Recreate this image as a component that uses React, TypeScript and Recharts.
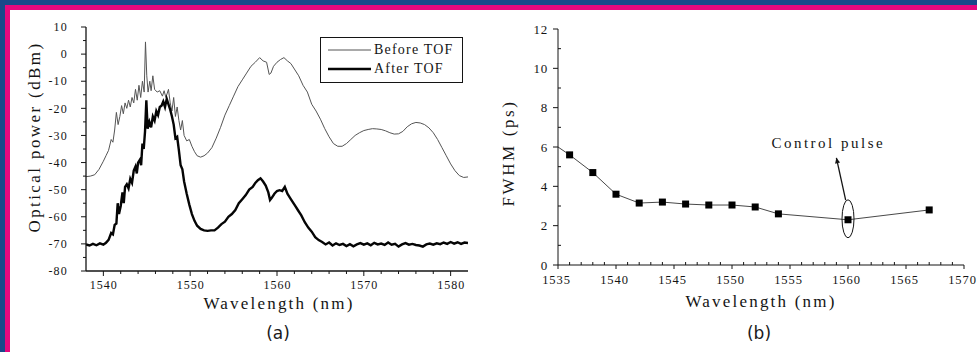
import React from "react";
import {
  LineChart,
  Line,
  XAxis,
  YAxis,
  Legend,
  Label,
  ReferenceDot,
  ReferenceLine,
} from "recharts";

// ---- (a) optical spectrum ----
const beforeWl = [
  1538.0, 1538.5, 1539.0, 1539.5, 1540.0, 1540.3, 1540.6, 1540.9, 1541.1, 1541.3,
  1541.5, 1541.7, 1541.9, 1542.1, 1542.3, 1542.5, 1542.7, 1542.9, 1543.1, 1543.3,
  1543.5, 1543.7, 1543.9, 1544.1, 1544.3, 1544.5, 1544.7, 1544.85, 1545.0, 1545.15,
  1545.35, 1545.5, 1545.7, 1545.9, 1546.2, 1546.5, 1546.8, 1547.0, 1547.2, 1547.5,
  1547.7, 1547.9, 1548.1, 1548.3, 1548.5, 1548.7, 1548.9, 1549.1, 1549.3, 1549.6,
  1549.9, 1550.2, 1550.5, 1550.8, 1551.2, 1551.6, 1552.0, 1552.5, 1553.0, 1553.5,
  1554.0, 1554.5, 1555.0, 1555.5, 1556.0, 1556.5, 1557.0, 1557.5, 1558.0, 1558.4,
  1558.8, 1559.1, 1559.3, 1559.6, 1560.0, 1560.4, 1560.8, 1561.2, 1561.6, 1562.0,
  1562.5, 1563.0, 1563.5, 1564.0, 1564.5, 1565.0, 1565.5, 1566.0, 1566.5, 1567.0,
  1567.5, 1568.0, 1568.5, 1569.0, 1569.5, 1570.0, 1570.5, 1571.0, 1571.5, 1572.0,
  1572.5, 1573.0, 1573.5, 1574.0, 1574.5, 1575.0, 1575.5, 1576.0, 1576.5, 1577.0,
  1577.5, 1578.0, 1578.5, 1579.0, 1579.5, 1580.0, 1580.5, 1581.0, 1581.5, 1582.0,
];
const beforeDbm = [
  -45.2, -45.0, -44.5, -42.5, -39.5, -37.5, -35.5, -31.5, -32.5, -28,
  -21.5, -26, -23, -19, -22, -18, -20, -17, -19.5, -16,
  -18, -13, -17, -11.5, -16, -10, -14, 4.5, -8, -14,
  -10, -13.5, -8, -13, -14, -13.5, -15.5, -13.5, -16, -13,
  -18, -21, -16, -23, -19.5, -24.5, -28, -24.5, -30, -32,
  -31.5, -34, -36, -37.5, -38, -37.5, -36.5, -34.5, -31, -27,
  -22.5, -19, -15.5, -12, -9.5, -7, -4.5, -3, -1.3, -2.5,
  -3, -7.5, -7, -4.5, -3, -2, -1.3, -2.5, -3.5, -5.5,
  -8, -11.5, -14, -18.5, -21, -24, -27.5, -30.5, -33, -34,
  -34, -33, -31.5, -30, -29, -28.2, -27.8, -27.5, -27.6, -27.8,
  -28.3, -29, -29.5, -29.4, -28.5, -26.8, -25.7, -25.2, -25.4, -26,
  -27.2, -29, -31.5, -34.5, -37.5, -40.5, -43, -44.8, -45.5, -45.3,
];

const afterWl = [
  1538.0, 1538.4, 1538.8, 1539.2, 1539.6, 1540.0, 1540.3, 1540.6, 1540.9, 1541.1,
  1541.3, 1541.5, 1541.65, 1541.8, 1542.0, 1542.2, 1542.35, 1542.5, 1542.7, 1542.9,
  1543.1, 1543.3, 1543.5, 1543.7, 1543.85, 1544.0, 1544.2, 1544.35, 1544.5, 1544.65,
  1544.8, 1544.95, 1545.1, 1545.3, 1545.5, 1545.7, 1545.9, 1546.1, 1546.3, 1546.5,
  1546.7, 1546.9, 1547.1, 1547.3, 1547.5, 1547.7, 1547.9, 1548.1, 1548.3, 1548.5,
  1548.7, 1548.9, 1549.1, 1549.3, 1549.6, 1549.9, 1550.2, 1550.5, 1550.8, 1551.2,
  1551.6, 1552.0, 1552.4, 1552.8, 1553.2, 1553.6, 1554.0, 1554.4, 1554.8, 1555.2,
  1555.6, 1556.0, 1556.4, 1556.8, 1557.2, 1557.5, 1557.8, 1558.1, 1558.4, 1558.7,
  1559.0, 1559.2, 1559.4, 1559.7, 1560.0, 1560.3, 1560.6, 1560.9, 1561.2, 1561.5,
  1561.8, 1562.1, 1562.4, 1562.8, 1563.2, 1563.6, 1564.0, 1564.4, 1564.8, 1565.2,
  1565.6, 1566.0, 1566.4, 1566.8, 1567.2, 1567.6, 1568.0, 1568.4, 1568.8, 1569.2,
  1569.6, 1570.0, 1570.4, 1570.8, 1571.2, 1571.6, 1572.0, 1572.4, 1572.8, 1573.2,
  1573.6, 1574.0, 1574.4, 1574.8, 1575.2, 1575.6, 1576.0, 1576.4, 1576.8, 1577.2,
  1577.6, 1578.0, 1578.4, 1578.8, 1579.2, 1579.6, 1580.0, 1580.4, 1580.8, 1581.2,
  1581.6, 1582.0,
];
const afterDbm = [
  -70.2, -70.6, -70.0, -70.5, -69.8, -70.3, -69.6, -68.5, -66, -66.5,
  -63, -62.5, -55, -59, -56, -51, -55, -49, -48, -49.5,
  -46, -47.5, -43, -41.5, -44, -40, -39, -41, -33, -35,
  -28.5, -17, -27.5, -25, -27, -23, -24.5, -21, -22.5, -19.5,
  -19, -17.5, -19.5, -16.5, -18.5, -20.5, -23, -26, -31, -30.5,
  -35.5, -41, -42.5, -47, -51.5, -55.5, -59, -61.5, -63.3, -64.5,
  -65, -65.2, -65, -65, -64, -62.7, -61.8, -60, -59, -57.5,
  -55, -53.5, -52, -50, -49, -47.5, -46.5, -45.8, -47, -48.5,
  -51, -53.8, -53, -51.5, -50.5, -50.2, -50.5, -49, -51.5, -53,
  -54.5, -56, -57.5, -59.5, -62, -64, -65.5, -67.5, -68.6, -69.3,
  -70.2, -69.5, -70.6, -69.8, -70.4, -70.0, -70.8, -70.1, -70.9, -70.2,
  -69.7, -70.3, -69.8, -70.5, -69.6, -70.2, -69.9, -70.4, -69.5, -70.3,
  -70.0, -71.0, -70.2, -69.7, -70.3, -70.0, -70.4, -70.6, -71.0, -70.2,
  -69.9, -70.3, -69.8, -70.1, -69.5, -70.0, -69.3, -69.9, -69.4, -70.0,
  -69.5, -69.7,
];

const specXMajor = [1540, 1550, 1560, 1570, 1580];
const specXTicks = [
  1540, 1542, 1544, 1546, 1548, 1550, 1552, 1554, 1556, 1558, 1560,
  1562, 1564, 1566, 1568, 1570, 1572, 1574, 1576, 1578, 1580,
];
const specYMajor = [-80, -70, -60, -50, -40, -30, -20, -10, 0, 10];
const specYTicks = [
  -80, -75, -70, -65, -60, -55, -50, -45, -40, -35, -30, -25, -20, -15, -10, -5, 0, 5, 10,
];

// ---- (b) FWHM vs wavelength ----
const fwhmWl = [1536, 1538, 1540, 1542, 1544, 1546, 1548, 1550, 1552, 1554, 1560, 1567];
const fwhmPs = [5.6, 4.7, 3.6, 3.15, 3.2, 3.1, 3.05, 3.05, 2.95, 2.6, 2.3, 2.8];
const leadWl = [1535, 1536];
const leadPs = [6.0, 5.6];

const fwhmXMajor = [1535, 1540, 1545, 1550, 1555, 1560, 1565, 1570];
const fwhmXTicks = [
  1535, 1536, 1537, 1538, 1539, 1540, 1541, 1542, 1543, 1544, 1545, 1546,
  1547, 1548, 1549, 1550, 1551, 1552, 1553, 1554, 1555, 1556, 1557, 1558,
  1559, 1560, 1561, 1562, 1563, 1564, 1565, 1566, 1567, 1568, 1569, 1570,
];
const fwhmYMajor = [0, 2, 4, 6, 8, 10, 12];
const fwhmYTicks = [0, 1, 2, 3, 4, 5, 6, 7, 8, 9, 10, 11, 12];

const beforeRows = beforeWl.map((x, i) => ({ x, y: beforeDbm[i] }));
const afterRows = afterWl.map((x, i) => ({ x, y: afterDbm[i] }));
const fwhmRows = fwhmWl.map((x, i) => ({ x, y: fwhmPs[i] }));
const leadRows = leadWl.map((x, i) => ({ x, y: leadPs[i] }));

const INK = "#141414";
const SERIF = '"Liberation Serif", "Times New Roman", Times, serif';

type Side = "bottom" | "top" | "left" | "right";
interface TickSpec {
  side: Side;
  majors: number[];
  majorLen: number;
  minorLen: number;
  majorOut: boolean;
  minorOut: boolean;
  label?: { gap: number; size: number; spacing: number; shift?: number };
}

const serifText = (size: number, spacing: number): React.CSSProperties => ({
  fontFamily: SERIF,
  fontSize: size,
  letterSpacing: spacing,
});

function makeTick(spec: TickSpec) {
  return (p: any) => {
    const v = p.payload?.value;
    const major = spec.majors.includes(v);
    const len = major ? spec.majorLen : spec.minorLen;
    const out = major ? spec.majorOut : spec.minorOut;
    let dx = 0;
    let dy = 0;
    if (spec.side === "bottom") dy = out ? 1 : -1;
    if (spec.side === "top") dy = out ? -1 : 1;
    if (spec.side === "left") dx = out ? -1 : 1;
    if (spec.side === "right") dx = out ? 1 : -1;
    let text = null;
    if (major && spec.label) {
      const l = spec.label;
      if (spec.side === "bottom") {
        text = (
          <text x={p.x + (l.shift ?? 0)} y={p.y + l.gap} textAnchor="middle"
            style={serifText(l.size, l.spacing)} fill={INK}>
            {v}
          </text>
        );
      } else {
        text = (
          <text x={p.x - l.gap} y={p.y + l.size * 0.35} textAnchor="end"
            style={serifText(l.size, l.spacing)} fill={INK}>
            {v}
          </text>
        );
      }
    }
    return (
      <g>
        <line x1={p.x} y1={p.y} x2={p.x + dx * len} y2={p.y + dy * len} stroke={INK} strokeWidth={1} />
        {text}
      </g>
    );
  };
}

const specLegend = () => (
  <div
    style={{
      width: 141,
      height: 44,
      border: `1.4px solid ${INK}`,
      background: "#fff",
      fontFamily: SERIF,
      fontSize: 14,
      letterSpacing: 1.2,
      color: INK,
      position: "relative",
    }}
  >
    {[
      { name: "Before TOF", w: 1, c: "#555", top: 3 },
      { name: "After TOF", w: 2.4, c: "#050505", top: 22 },
    ].map((r) => (
      <div key={r.name} style={{ position: "absolute", left: 7, top: r.top, height: 18, display: "flex", alignItems: "center" }}>
        <svg width={43} height={18}>
          <line x1={0} y1={9} x2={43} y2={9} stroke={r.c} strokeWidth={r.w} />
        </svg>
        <span style={{ marginLeft: 3, lineHeight: "18px", whiteSpace: "nowrap" }}>{r.name}</span>
      </div>
    ))}
  </div>
);

function SpectrumChart() {
  return (
    <LineChart width={490} height={352} margin={{ top: 27, right: 22, bottom: 51, left: 46 }}>
      <XAxis
        dataKey="x"
        type="number"
        domain={[1538, 1582]}
        allowDataOverflow
        ticks={specXTicks}
        interval={0}
        height={30}
        tickSize={0}
        tickMargin={0}
        tickLine={false}
        axisLine={{ stroke: INK, strokeWidth: 1.3 }}
        tick={makeTick({ side: "bottom", majors: specXMajor, majorLen: 5, minorLen: 3, majorOut: true, minorOut: true, label: { gap: 18, size: 12, spacing: 1, shift: 0.5 } })}
      >
        <Label
          content={() => (
            <text x={279} y={309} textAnchor="middle" style={serifText(17, 2.2)} fill={INK}>
              Wavelength (nm)
            </text>
          )}
        />
      </XAxis>
      <XAxis xAxisId="top" orientation="top" type="number" domain={[1538, 1582]} allowDataOverflow
        height={0} tick={false} tickLine={false} axisLine={{ stroke: INK, strokeWidth: 1.3 }} />
      <YAxis
        type="number"
        domain={[-80, 10]}
        allowDataOverflow
        ticks={specYTicks}
        interval={0}
        width={40}
        tickSize={0}
        tickMargin={0}
        tickLine={false}
        axisLine={{ stroke: INK, strokeWidth: 1.3 }}
        tick={makeTick({ side: "left", majors: specYMajor, majorLen: 5, minorLen: 3, majorOut: true, minorOut: true, label: { gap: 18, size: 12, spacing: 1.2 } })}
      >
        <Label
          content={() => (
            <text x={40} y={137} transform="rotate(-90 40 137)" textAnchor="middle"
              style={serifText(17, 2.4)} fill={INK}>
              Optical power (dBm)
            </text>
          )}
        />
      </YAxis>
      <YAxis yAxisId="right" orientation="right" type="number" domain={[-80, 10]} allowDataOverflow
        width={0} tick={false} tickLine={false} axisLine={{ stroke: INK, strokeWidth: 1.3 }} />
      <Legend layout="horizontal" verticalAlign="middle" align="center" content={specLegend}
        wrapperStyle={{ left: 320, top: 37, width: 143, height: 46 }} />
      <Line data={beforeRows} dataKey="y" name="Before TOF" stroke="#555" strokeWidth={1}
        dot={false} type="linear" isAnimationActive={false} />
      <Line data={afterRows} dataKey="y" name="After TOF" stroke="#050505" strokeWidth={2.4}
        dot={false} type="linear" isAnimationActive={false} />
    </LineChart>
  );
}

const squareDot = (p: any) => (
  <rect key={`sq-${p.index}`} x={p.cx - 3.5} y={p.cy - 3.5} width={7} height={7} fill="#000" />
);

function FwhmChart() {
  return (
    <LineChart width={490} height={352} margin={{ top: 29, right: 13, bottom: 57, left: 31 }}>
      <XAxis
        dataKey="x"
        type="number"
        domain={[1535, 1570]}
        allowDataOverflow
        ticks={fwhmXTicks}
        interval={0}
        height={30}
        tickSize={0}
        tickMargin={0}
        tickLine={false}
        axisLine={{ stroke: INK, strokeWidth: 1 }}
        tick={makeTick({ side: "bottom", majors: fwhmXMajor, majorLen: 4, minorLen: 3, majorOut: true, minorOut: false, label: { gap: 19, size: 12.5, spacing: 0.9, shift: -1.5 } })}
      >
        <Label
          content={() => (
            <text x={274} y={307} textAnchor="middle" style={serifText(17, 2.2)} fill={INK}>
              Wavelength (nm)
            </text>
          )}
        />
      </XAxis>
      <XAxis
        xAxisId="top"
        orientation="top"
        type="number"
        domain={[1535, 1570]}
        allowDataOverflow
        ticks={fwhmXTicks}
        interval={0}
        height={0}
        tickSize={0}
        tickMargin={0}
        tickLine={false}
        axisLine={{ stroke: INK, strokeWidth: 1 }}
        tick={makeTick({ side: "top", majors: fwhmXMajor, majorLen: 4, minorLen: 3, majorOut: false, minorOut: false })}
      />
      <YAxis
        type="number"
        domain={[0, 12]}
        allowDataOverflow
        ticks={fwhmYTicks}
        interval={0}
        width={40}
        tickSize={0}
        tickMargin={0}
        tickLine={false}
        axisLine={{ stroke: INK, strokeWidth: 1 }}
        tick={makeTick({ side: "left", majors: fwhmYMajor, majorLen: 5, minorLen: 3, majorOut: true, minorOut: false, label: { gap: 10, size: 13, spacing: 0.8 } })}
      >
        <Label
          content={() => (
            <text x={27} y={153} transform="rotate(-90 27 153)" textAnchor="middle"
              style={serifText(17, 2.6)} fill={INK}>
              FWHM (ps)
            </text>
          )}
        />
      </YAxis>
      <YAxis
        yAxisId="right"
        orientation="right"
        type="number"
        domain={[0, 12]}
        allowDataOverflow
        ticks={fwhmYTicks}
        interval={0}
        width={0}
        tickSize={0}
        tickMargin={0}
        tickLine={false}
        axisLine={{ stroke: INK, strokeWidth: 1 }}
        tick={makeTick({ side: "right", majors: fwhmYMajor, majorLen: 5, minorLen: 3, majorOut: false, minorOut: false })}
      />
      <Line data={leadRows} dataKey="y" stroke="#333" strokeWidth={0.9} dot={false}
        type="linear" isAnimationActive={false} />
      <Line data={fwhmRows} dataKey="y" stroke="#333" strokeWidth={0.9} dot={squareDot}
        type="linear" isAnimationActive={false} />
      <ReferenceDot
        x={1560}
        y={2.35}
        shape={(p: any) => (
          <ellipse cx={p.cx} cy={p.cy} rx={6} ry={19} fill="none" stroke={INK} strokeWidth={1} />
        )}
      />
      <ReferenceLine
        segment={[
          { x: 1559.0, y: 5.45 },
          { x: 1559.8, y: 3.3 },
        ]}
        shape={(p: any) => {
          const ang = Math.atan2(p.y1 - p.y2, p.x1 - p.x2);
          const hx = p.x1;
          const hy = p.y1;
          const a1 = ang + 2.7;
          const a2 = ang - 2.7;
          return (
            <g>
              <line x1={p.x1} y1={p.y1} x2={p.x2} y2={p.y2} stroke={INK} strokeWidth={1.3} />
              <polygon
                points={`${hx},${hy} ${hx + 6 * Math.cos(a1)},${hy + 6 * Math.sin(a1)} ${hx + 6 * Math.cos(a2)},${hy + 6 * Math.sin(a2)}`}
                fill={INK}
              />
            </g>
          );
        }}
      />
      <ReferenceDot
        x={1558.3}
        y={6.2}
        shape={(p: any) => (
          <text x={p.cx} y={p.cy + 5} textAnchor="middle" style={serifText(15, 2.5)} fill={INK}>
            Control pulse
          </text>
        )}
      />
    </LineChart>
  );
}

const captionStyle: React.CSSProperties = {
  position: "absolute",
  top: 321,
  width: 60,
  textAlign: "center",
  fontFamily: '"DejaVu Sans", Verdana, sans-serif',
  fontSize: 17,
  color: "#1a1a1a",
  lineHeight: "24px",
};

export default function App() {
  return (
    <div style={{ position: "absolute", left: 0, top: 0, width: 977, height: 352, background: "#17498a", overflow: "hidden" }}>
      <div style={{ position: "absolute", left: 5, top: 5, right: 0, bottom: 0, background: "#e4087e" }} />
      <div style={{ position: "absolute", left: 10, top: 10, right: 0, bottom: 0, background: "#fff" }} />
      <div style={{ position: "absolute", left: 0, top: 0 }}>
        <SpectrumChart />
      </div>
      <div style={{ position: "absolute", left: 487, top: 0 }}>
        <FwhmChart />
      </div>
      <div style={{ ...captionStyle, left: 248 }}>(a)</div>
      <div style={{ ...captionStyle, left: 729 }}>(b)</div>
    </div>
  );
}
